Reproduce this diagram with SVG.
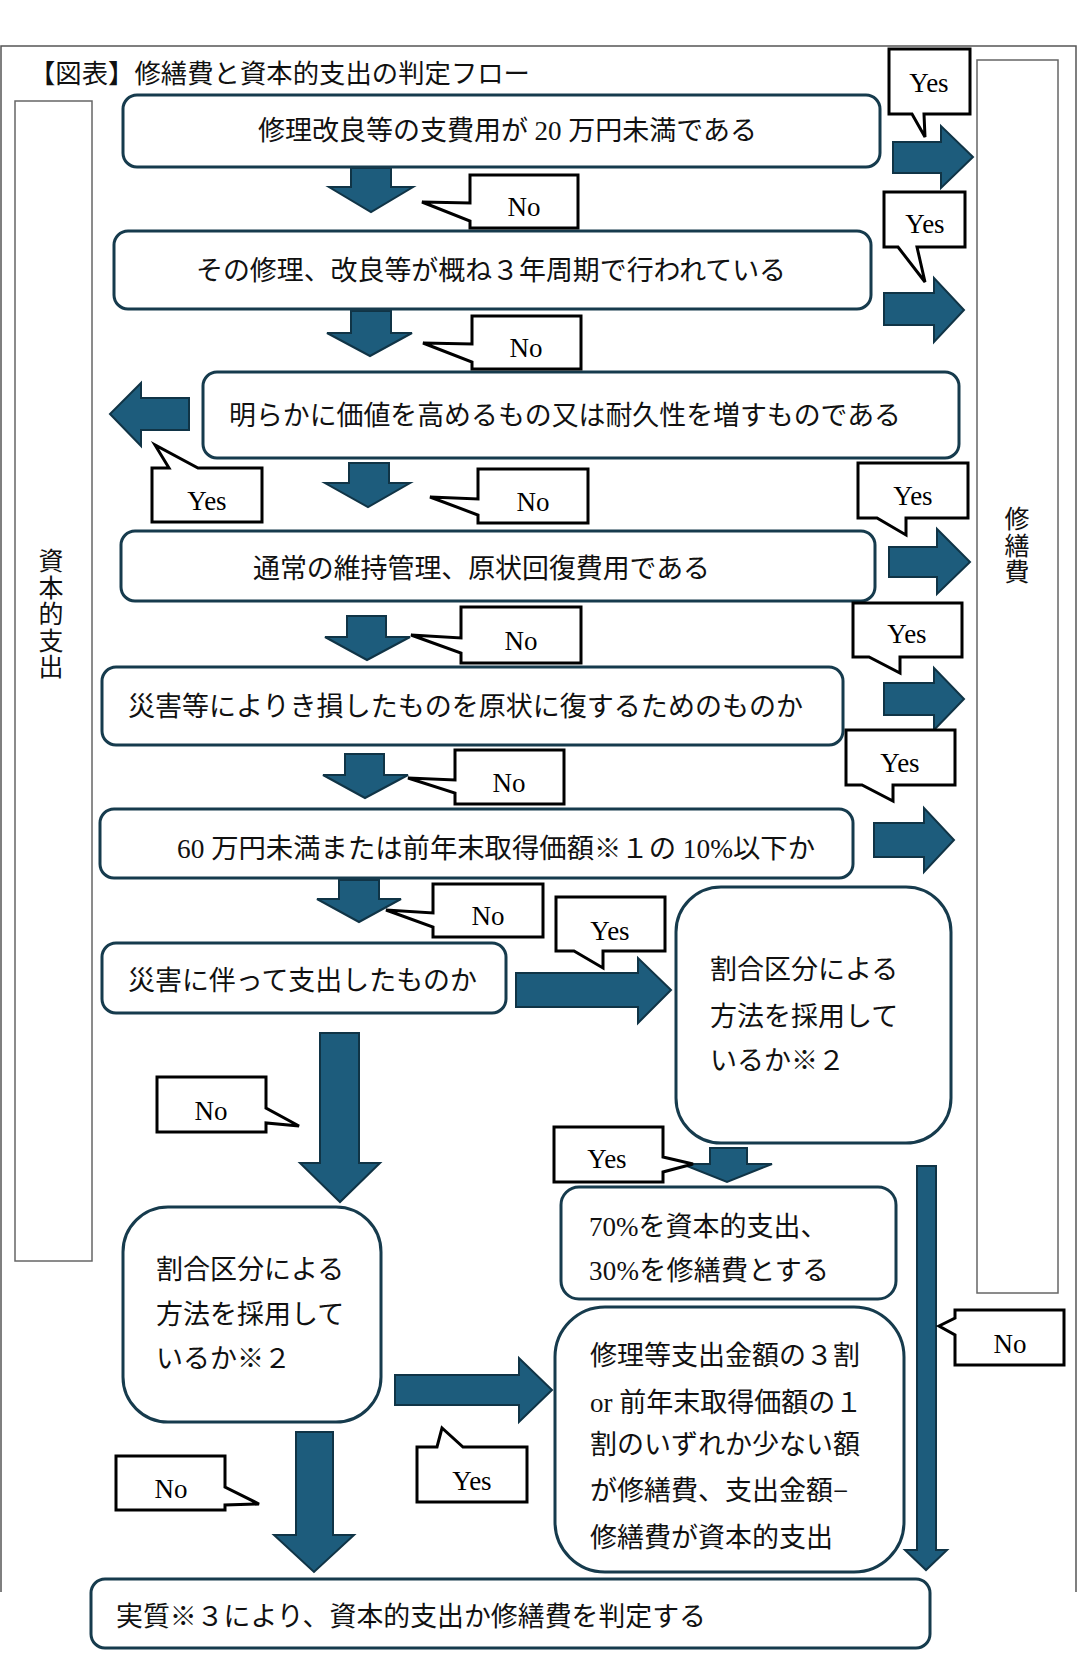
<svg xmlns="http://www.w3.org/2000/svg" width="1078" height="1653" viewBox="0 0 1078 1653">
<style>
  .frame{fill:none;stroke:#555;stroke-width:1.5}
  .col{fill:#fff;stroke:#666;stroke-width:1.5}
  .node{fill:#fff;stroke:#163b4d;stroke-width:3}
  .arr{fill:#1d5c7c;stroke:#103446;stroke-width:2;stroke-linejoin:miter}
  .call{fill:#fff;stroke:#000;stroke-width:3;stroke-linejoin:miter}
  .t{font-family:"Liberation Serif","Noto Sans CJK JP",serif;font-size:27px;fill:#111}
  .title{font-family:"Liberation Serif","Noto Sans CJK JP",serif;font-size:26px;fill:#111}
  .lbl{font-family:"Liberation Serif","Noto Sans CJK JP",serif;font-size:27px;fill:#000;text-anchor:middle}
  .vt{font-family:"Noto Sans CJK JP",sans-serif;font-size:25px;fill:#111;writing-mode:vertical-rl;letter-spacing:1.6px}
</style>
<rect width="1078" height="1653" fill="#fff"/>
<path class="frame" d="M1,1592 V46 H1076 V1592"/>
<text class="title" x="29" y="83" textLength="501" lengthAdjust="spacingAndGlyphs">【図表】修繕費と資本的支出の判定フロー</text>

<g id="col-capital">
  <rect class="col" x="15" y="101" width="77" height="1160"/>
  <text class="vt" x="51" y="548">資本的支出</text>
</g>
<g id="col-repair">
  <rect class="col" x="977" y="60" width="81" height="1233"/>
  <text class="vt" x="1017" y="506">修繕費</text>
</g>

<g id="connectors">
  <path class="arr" d="M351,168 H391 V187 H413 L371,212 L329,187 H351 Z"/>
  <path class="arr" d="M351,311 H391 V333 H412 L370,356 L327,333 H351 Z"/>
  <path class="arr" d="M349,463 H389 V483 H410 L368,507 L325,483 H349 Z"/>
  <path class="arr" d="M347,616 H386 V637 H410 L367,660 L325,637 H347 Z"/>
  <path class="arr" d="M345,754 H384 V775 H408 L365,798 L323,775 H345 Z"/>
  <path class="arr" d="M339,880 H379 V899 H401 L359,922 L317,899 H339 Z"/>
  <path class="arr" d="M320,1033 H359 V1163 H380 L340,1202 L300,1163 H320 Z"/>
  <path class="arr" d="M710,1148 H747 V1164 H772 L727,1182 L682,1164 H710 Z"/>
  <path class="arr" d="M296,1432 H333 V1535 H354 L314,1572 L274,1535 H296 Z"/>
  <path class="arr" d="M917,1166 H936 V1550 H947 L926,1570 L905,1550 H917 Z"/>
  <path class="arr" d="M893,142 H941 V126 L973,157 L941,188 V173 H893 Z"/>
  <path class="arr" d="M884,293 H934 V278 L964,310 L934,342 V325 H884 Z"/>
  <path class="arr" d="M189,398 H141 V383 L110,414 L141,446 V430 H189 Z"/>
  <path class="arr" d="M889,547 H937 V529 L970,562 L937,594 V577 H889 Z"/>
  <path class="arr" d="M884,683 H934 V668 L964,699 L934,730 V715 H884 Z"/>
  <path class="arr" d="M874,823 H924 V808 L954,840 L924,872 V857 H874 Z"/>
  <path class="arr" d="M516,973 H638 V958 L671,990 L638,1023 V1007 H516 Z"/>
  <path class="arr" d="M395,1375 H519 V1358 L552,1390 L519,1422 V1405 H395 Z"/>
</g>

<g id="n1"><rect class="node" x="123" y="95" width="757" height="72" rx="14"/>
  <text class="t" x="258" y="140" textLength="499" lengthAdjust="spacingAndGlyphs">修理改良等の支費用が 20 万円未満である</text></g>
<g id="n2"><rect class="node" x="114" y="231" width="757" height="78" rx="14"/>
  <text class="t" x="196" y="280" textLength="590" lengthAdjust="spacingAndGlyphs">その修理、改良等が概ね３年周期で行われている</text></g>
<g id="n3"><rect class="node" x="203" y="372" width="756" height="86" rx="14"/>
  <text class="t" x="229" y="425" textLength="672" lengthAdjust="spacingAndGlyphs">明らかに価値を高めるもの又は耐久性を増すものである</text></g>
<g id="n4"><rect class="node" x="121" y="531" width="754" height="70" rx="14"/>
  <text class="t" x="253" y="578" textLength="457" lengthAdjust="spacingAndGlyphs">通常の維持管理、原状回復費用である</text></g>
<g id="n5"><rect class="node" x="102" y="667" width="741" height="78" rx="14"/>
  <text class="t" x="128" y="716" textLength="675" lengthAdjust="spacingAndGlyphs">災害等によりき損したものを原状に復するためのものか</text></g>
<g id="n6"><rect class="node" x="100" y="809" width="753" height="69" rx="14"/>
  <text class="t" x="177" y="858" textLength="638" lengthAdjust="spacingAndGlyphs">60 万円未満または前年末取得価額※１の 10%以下か</text></g>
<g id="n7"><rect class="node" x="102" y="943" width="404" height="70" rx="14"/>
  <text class="t" x="128" y="990" textLength="349" lengthAdjust="spacingAndGlyphs">災害に伴って支出したものか</text></g>
<g id="n8"><rect class="node" x="123" y="1207" width="258" height="215" rx="45"/>
  <text class="t"><tspan x="156" y="1279">割合区分による</tspan><tspan x="156" y="1324">方法を採用して</tspan><tspan x="156" y="1368">いるか※２</tspan></text></g>
<g id="n9"><rect class="node" x="676" y="887" width="275" height="256" rx="45"/>
  <text class="t"><tspan x="710" y="979">割合区分による</tspan><tspan x="710" y="1026">方法を採用して</tspan><tspan x="710" y="1070">いるか※２</tspan></text></g>
<g id="n10"><rect class="node" x="561" y="1187" width="335" height="112" rx="18"/>
  <text class="t" x="589" y="1236">70%を資本的支出、</text>
  <text class="t" x="589" y="1280" textLength="240" lengthAdjust="spacing">30%を修繕費とする</text></g>
<g id="n11"><rect class="node" x="555" y="1307" width="349" height="265" rx="50"/>
  <text class="t"><tspan x="590" y="1365">修理等支出金額の３割</tspan><tspan x="590" y="1412">or 前年末取得価額の１</tspan><tspan x="590" y="1454">割のいずれか少ない額</tspan><tspan x="590" y="1500">が修繕費、支出金額−</tspan><tspan x="590" y="1547">修繕費が資本的支出</tspan></text></g>
<g id="n12"><rect class="node" x="91" y="1579" width="839" height="69" rx="14"/>
  <text class="t" x="116" y="1626" textLength="590" lengthAdjust="spacingAndGlyphs">実質※３により、資本的支出か修繕費を判定する</text></g>

<g id="labels">
  <g id="no1"><path class="call" d="M470,175 H578 V228 H470 V221 L422,202 L470,203 Z"/><text class="lbl" x="524" y="216">No</text></g>
  <g id="no2"><path class="call" d="M472,316 H581 V369 H472 V362 L423,343 L472,344 Z"/><text class="lbl" x="526" y="357">No</text></g>
  <g id="no3"><path class="call" d="M478,469 H588 V523 H478 V515 L430,497 L478,499 Z"/><text class="lbl" x="533" y="511">No</text></g>
  <g id="no4"><path class="call" d="M461,607 H581 V663 H461 V653 L411,635 L461,638 Z"/><text class="lbl" x="521" y="650">No</text></g>
  <g id="no5"><path class="call" d="M455,750 H564 V804 H455 V793 L408,778 L455,780 Z"/><text class="lbl" x="509" y="792">No</text></g>
  <g id="no6"><path class="call" d="M433,884 H543 V937 H433 V927 L386,910 L433,913 Z"/><text class="lbl" x="488" y="925">No</text></g>
  <g id="no7"><path class="call" d="M157,1077 H266 V1108 L299,1126 L266,1123 V1132 H157 Z"/><text class="lbl" x="211" y="1120">No</text></g>
  <g id="no8"><path class="call" d="M955,1310 H1064 V1365 H955 V1335 L939,1326 L955,1318 Z"/><text class="lbl" x="1010" y="1353">No</text></g>
  <g id="no9"><path class="call" d="M116,1456 H225 V1487 L259,1504 L225,1505 V1510 H116 Z"/><text class="lbl" x="171" y="1498">No</text></g>
  <g id="yes1"><path class="call" d="M889,49 H970 V114 H924 L925,137 L912,114 H889 Z"/><text class="lbl" x="929" y="92">Yes</text></g>
  <g id="yes2"><path class="call" d="M884,192 H965 V247 H917 L925,282 L898,247 H884 Z"/><text class="lbl" x="925" y="233">Yes</text></g>
  <g id="yes3"><path class="call" d="M152,468 H169 L155,445 L198,468 H262 V522 H152 Z"/><text class="lbl" x="207" y="510">Yes</text></g>
  <g id="yes4"><path class="call" d="M858,463 H968 V518 H906 L906,535 L877,518 H858 Z"/><text class="lbl" x="913" y="505">Yes</text></g>
  <g id="yes5"><path class="call" d="M853,603 H962 V657 H900 L900,673 L869,657 H853 Z"/><text class="lbl" x="907" y="643">Yes</text></g>
  <g id="yes6"><path class="call" d="M846,730 H955 V785 H893 L893,801 L862,785 H846 Z"/><text class="lbl" x="900" y="772">Yes</text></g>
  <g id="yes7"><path class="call" d="M556,897 H665 V951 H603 L603,968 L574,951 H556 Z"/><text class="lbl" x="610" y="940">Yes</text></g>
  <g id="yes8"><path class="call" d="M554,1127 H663 V1157 L693,1164 L663,1172 V1182 H554 Z"/><text class="lbl" x="607" y="1168">Yes</text></g>
  <g id="yes9"><path class="call" d="M417,1447 H437 L442,1428 L463,1447 H527 V1502 H417 Z"/><text class="lbl" x="472" y="1490">Yes</text></g>
</g>
</svg>
